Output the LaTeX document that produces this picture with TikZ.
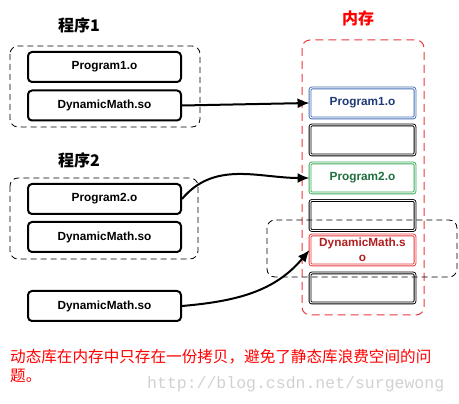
\documentclass[tikz,border=0pt]{standalone}
\usepackage{fontspec}
\setmainfont{Liberation Sans}
\newfontfamily\cjk{Noto Sans CJK SC}
\newfontfamily\wmfont{Liberation Mono}
\usetikzlibrary{arrows.meta}
\definecolor{memred}{HTML}{E8383D}
\definecolor{bluebox}{HTML}{4A6FB5}
\definecolor{bluetxt}{HTML}{1F3A78}
\definecolor{greenbox}{HTML}{3AAA55}
\definecolor{greentxt}{HTML}{1E6E3E}
\definecolor{redbox}{HTML}{E83A3A}
\definecolor{redtxt}{HTML}{B01E1E}
\tikzset{
  progbox/.style={draw, line width=2pt, rounded corners=4pt, minimum width=153pt, minimum height=30pt, inner sep=0pt, font=\fontsize{11.8}{13}\selectfont\bfseries},
  membox/.style={draw, double, double distance=1pt, line width=0.9pt, rounded corners=2pt, minimum width=105pt, minimum height=30pt, inner sep=0pt, font=\fontsize{11.8}{13}\selectfont\bfseries},
  grp/.style={draw, dashed, dash pattern=on 6pt off 4pt, line width=0.8pt, rounded corners=8pt},
  title/.style={font=\cjk\bfseries\fontsize{16}{18}\selectfont},
  arr/.style={line width=2pt, -{Latex[length=12pt,width=10pt]}}
}
\begin{document}
\begin{tikzpicture}
\useasboundingbox (0,0) rectangle (459pt,-404pt);
\begin{scope}[x=1pt,y=1pt]
% titles
\node[title] (t1) at (79,-25) {程序1};
\node[title] (t2) at (79,-160) {程序2};
\node[title, text=red] (tm) at (358,-18) {内存};
% memory frame
\draw[draw=memred, dashed, dash pattern=on 8pt off 5pt, line width=1pt, rounded corners=8pt] (302,-40) rectangle (424,-315);
% program 1 group
\draw[grp] (10,-46) rectangle (200,-127);
\node[progbox] (p1) at (104.5,-67) {Program1.o};
\node[progbox] (d1) at (104.5,-105.5) {DynamicMath.so};
% program 2 group
\draw[grp] (10,-178) rectangle (198,-259);
\node[progbox] (p2) at (104.5,-199) {Program2.o};
\node[progbox] (d2) at (104.5,-237) {DynamicMath.so};
% standalone
\node[progbox] (d3) at (104.5,-306) {DynamicMath.so};
% memory boxes
\node[membox, draw=bluebox, text=bluetxt] (m1) at (362.5,-103) {Program1.o};
\node[membox] (m2) at (362.5,-140) {};
\node[membox, draw=greenbox, text=greentxt] (m3) at (362.5,-178) {Program2.o};
\node[membox] (m4) at (362.5,-215.5) {};
\node[membox, draw=redbox, text=redtxt, align=center, font=\fontsize{11.8}{15}\selectfont\bfseries] (m5) at (362.5,-250) {DynamicMath.s\\o};
\node[membox] (m6) at (362.5,-288) {};
% dashed group around shared lib
\draw[grp] (267,-220) rectangle (457,-277);
% arrows
\draw[arr] (d1.east) -- (m1.west);
\draw[arr] (p2.east) to[out=50, in=180] (m3.west);
\draw[arr] (d3.east) to[out=5, in=-130] (m5.west);
% caption
\node[anchor=north west, text=red, font=\cjk\fontsize{15.6}{19}\selectfont, inner sep=0pt, align=left] (cap) at (10,-349) {动态库在内存中只存在一份拷贝，避免了静态库浪费空间的问\\题。};
\node[anchor=west, text=black!18, font=\wmfont\fontsize{16.5}{18}\selectfont, inner sep=0pt] (wm) at (147,-384) {http://blog.csdn.net/surgewong};
\end{scope}
\end{tikzpicture}
\end{document}
